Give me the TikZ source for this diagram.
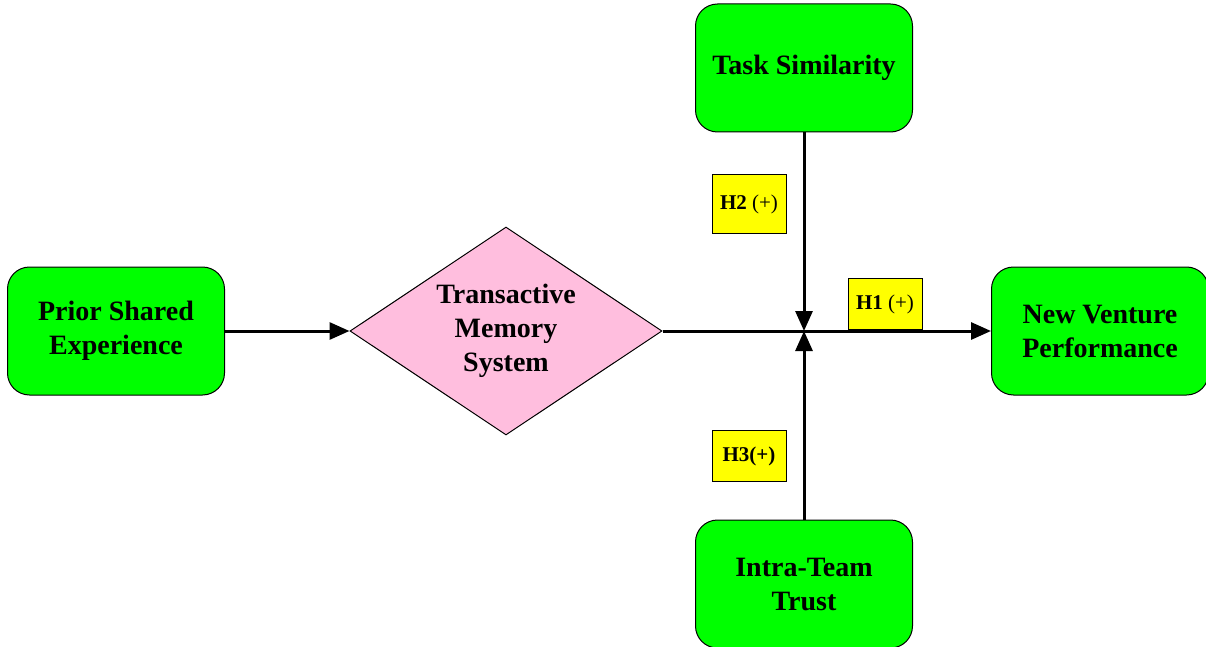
\documentclass[tikz,border=0pt]{standalone}
\usepackage{fontspec}
\setmainfont{Liberation Serif}
\usetikzlibrary{positioning, arrows.meta, shapes.geometric}
\definecolor{tmsgreen}{RGB}{0, 255, 0}
\definecolor{tmspink}{RGB}{255, 190, 222}
\definecolor{tmsyellow}{RGB}{255, 255, 0}
\tikzset{
  varbox/.style={draw, line width=1pt, rounded corners=22pt, fill=tmsgreen, minimum width=217pt, minimum height=128pt},
  hyplabel/.style={draw, line width=1pt, fill=tmsyellow, minimum width=74pt, font=\fontsize{21}{25}\selectfont},
  flow/.style={line width=3pt, -{Triangle[length=20pt, width=17pt]}}
}
\begin{document}
\begin{tikzpicture}[x=1pt, y=-1pt, every node/.style={align=center, font=\fontsize{28}{34}\selectfont\bfseries}]
  \useasboundingbox (0,0) rectangle (1206,647);
  \node[varbox] (pse) at (116,331) {Prior Shared\\Experience};
  \node[draw, line width=1pt, diamond, aspect=1.5, fill=tmspink, inner sep=0pt, minimum width=312pt, minimum height=208pt] (tms) at (506,331)
    {Transactive\\Memory\\System};
  \node[varbox] (ts) at (804,68) {Task Similarity};
  \node[varbox] (itt) at (804,584) {Intra-Team\\Trust};
  \node[varbox] (nvp) at (1100,331) {New Venture\\Performance};
  \coordinate (meet) at (804,331);
  % hypothesis labels
  \node[hyplabel, minimum height=58pt] (h2) at (749,204) {\textbf{H2} (+)};
  \node[hyplabel, minimum height=51pt] (h1) at (885,304) {\textbf{H1} (+)};
  \node[hyplabel, minimum height=51pt] (h3) at (749,456) {\textbf{H3(+)}};
  \draw[flow] (pse) -- (tms);
  \draw[flow] (tms.east) -- (nvp.west);
  \draw[flow] (ts) -- (meet);
  \draw[flow] (itt) -- (meet);
\end{tikzpicture}
\end{document}
